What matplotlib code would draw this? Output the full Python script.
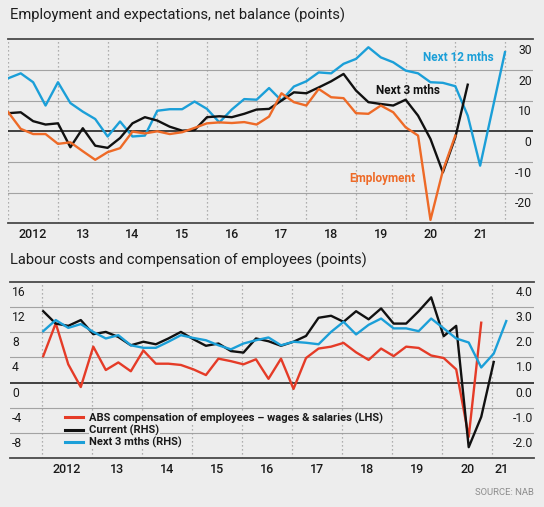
import matplotlib
matplotlib.use('Agg')
import matplotlib.pyplot as plt

BG = '#ededed'
BLUE = '#1b9fd8'
ORANGE = '#ee6a27'
RED = '#e53b27'
BLACK = '#111111'

plt.rcParams['font.family'] = ['Roboto', 'DejaVu Sans']

# ── Top chart: employment and expectations, quarterly from 2012 Q1 ───────────
next_12_mths = [17.3, 18.9, 16.0, 8.4, 16.0, 9.2, 6.4, 4.0, -1.7, 3.2, -1.7, -1.4,
                6.7, 7.2, 7.2, 9.7, 7.3, 2.9, 7.1, 10.5, 10.3, 14.1, 10.0, 14.6,
                16.3, 19.2, 18.9, 22.0, 23.6, 27.4, 24.1, 22.5, 19.8, 18.9, 16.0,
                15.8, 14.7, 5.1, -11.2, 7.3, 25.8]
next_3_mths = [5.9, 6.2, 3.3, 2.2, 2.6, -5.2, 1.0, -4.7, -5.4, -2.2, 2.6, 4.6,
               3.5, 1.5, 0.2, 0.4, 4.6, 4.9, 4.6, 5.7, 7.1, 7.3, 10.0, 12.7,
               12.4, 14.3, 16.3, 18.7, 13.3, 9.5, 8.9, 8.4, 10.3, 5.1, -2.5,
               -13.4, -2.0, 15.2]
employment = [6.2, 0.8, -0.9, -0.9, -4.1, -3.6, -6.5, -9.3, -6.8, -5.5, -0.1, -0.7,
              0.0, -0.9, -0.3, 1.1, 2.6, 2.9, 2.7, 3.0, 2.2, 4.8, 12.4, 9.5,
              8.4, 13.8, 11.1, 10.8, 5.9, 5.7, 8.4, 6.2, 1.3, -1.4, -28.9,
              -12.8, -1.4]
top_yticks = [30, 20, 10, 0, -10, -20]
top_years = ['2012', '13', '14', '15', '16', '17', '18', '19', '20', '21']

# ── Bottom chart: labour costs ───────────────────────────────────────────────
abs_wages = [4.2, 9.4, 2.9, -0.7, 5.7, 2.0, 3.2, 1.8, 5.1, 3.0, 3.0, 2.8,
             2.1, 1.2, 3.8, 3.4, 2.9, 3.7, 0.6, 3.8, -1.0, 3.9, 5.4, 5.7,
             6.3, 4.8, 3.6, 5.4, 4.2, 5.7, 5.5, 4.3, 3.9, 2.1, -8.6, 9.5]
cost_current = [2.83, 2.34, 2.25, 2.48, 1.92, 2.01, 1.81, 1.48, 1.62, 1.52, 1.75, 2.01,
                1.72, 1.46, 1.55, 1.25, 1.19, 1.75, 1.64, 1.46, 1.62, 1.85, 2.57, 2.65,
                2.41, 2.83, 2.51, 2.94, 2.34, 2.34, 2.83, 3.38, 1.84, 2.25, -2.56,
                -1.36, 0.82]
cost_next3 = [2.04, 2.48, 2.17, 2.32, 2.01, 1.75, 1.88, 1.48, 1.38, 1.38, 1.62, 1.88,
              1.77, 1.68, 1.48, 1.32, 1.55, 1.68, 1.79, 1.48, 1.62, 1.58, 1.52, 2.01,
              2.41, 1.91, 2.29, 2.54, 2.15, 2.15, 2.04, 2.54, 2.15, 1.75, 1.59,
              0.6, 1.15, 2.44]
lhs_ticks = [16, 12, 8, 4, 0, -4, -8]
rhs_ticks = [4.0, 3.0, 2.0, 1.0, 0.0, -1.0, -2.0]
bottom_years = ['2012', '13', '14', '15', '16', '17', '18', '19', '20', '21']


def quarters(n, start=2012.0):
    return [start + i / 4 for i in range(n)]


def frame(ax, ymin, ymax, step, years):
    ax.set_facecolor(BG)
    for s in ax.spines.values():
        s.set_visible(False)
    ax.set_ylim(ymin, ymax)
    ax.set_yticks([])
    v = ymin + step
    while v < ymax:
        if v == 0:
            ax.axhline(0, color='#111111', lw=1.1, zorder=2)
        else:
            ax.axhline(v, color='#a3a3a3', lw=0.8, zorder=1)
        v += step
    for edge in (ymin, ymax):
        ax.axhline(edge, color='#4a4a4a', lw=1.3, zorder=2, clip_on=False)
    for yr in years:
        ax.axvline(yr, color='#9a9a9a', lw=0.9, ls=(0, (1, 2.2)), zorder=1)
    ax.tick_params(axis='x', length=0, pad=3.5, labelsize=9, labelcolor='#1a1a1a')
    for lbl in ax.get_xticklabels():
        lbl.set_fontweight('medium')


fig = plt.figure(figsize=(5.44, 5.07), dpi=100, facecolor=BG)

# ── Chart 1 ──────────────────────────────────────────────────────────────────
ax1 = fig.add_axes([0.01526, 0.5596, 0.9645, 0.3629])
ax1.set_xlim(2012.0, 2022.564)
ax1.set_xticks([2012.5 + i for i in range(len(top_years))])
ax1.set_xticklabels(top_years, fontweight='medium')
frame(ax1, -30, 30, 10, range(2012, 2023))

ax1.plot(quarters(len(next_12_mths)), next_12_mths, color=BLUE, lw=1.7, zorder=3)
ax1.plot(quarters(len(next_3_mths)), next_3_mths, color=BLACK, lw=1.7, zorder=4)
ax1.plot(quarters(len(employment)), employment, color=ORANGE, lw=1.7, zorder=5)

for v in top_yticks:
    ax1.annotate(str(v), xy=(1, v), xycoords=('axes fraction', 'data'),
                 xytext=(-1, -8), textcoords='offset points',
                 ha='right', va='center', fontsize=8.7, color='#1a1a1a')

ax1.text(2021.07, 24.1, 'Next 12 mths', color=BLUE, fontsize=8.5,
         fontweight='bold', ha='center', va='center')
ax1.text(2020.05, 13.3, 'Next 3 mths', color=BLACK, fontsize=8.5,
         fontweight='bold', ha='center', va='center')
ax1.text(2019.54, -15.4, 'Employment', color=ORANGE, fontsize=8.5,
         fontweight='bold', ha='center', va='center')

fig.text(10 / 544, 1 - 15 / 507, 'Employment and expectations, net balance (points)',
         fontsize=10.6, color='#1e1e1e', ha='left', va='center')

# ── Chart 2 ──────────────────────────────────────────────────────────────────
ax2 = fig.add_axes([0.01838, 0.09606, 0.9632, 0.3483])
ax2.set_xlim(2011.366, 2021.834)
ax2.set_xticks([2012.5 + i for i in range(len(bottom_years) - 1)] + [2021.18])
ax2.set_xticklabels(bottom_years, fontweight='medium')
frame(ax2, -12, 16, 4, range(2012, 2022))

ax2r = ax2.twinx()
for s in ax2r.spines.values():
    s.set_visible(False)
ax2r.set_ylim(-3, 4)
ax2r.set_yticks([])

l_abs, = ax2.plot([x + 0.03 for x in quarters(len(abs_wages))], abs_wages,
                  color=RED, lw=1.7, zorder=3,
                  label='ABS compensation of employees \u2013 wages & salaries (LHS)')
l_cur, = ax2r.plot([x + 0.03 for x in quarters(len(cost_current))], cost_current,
                   color=BLACK, lw=1.7, zorder=3, label='Current (RHS)')
l_n3, = ax2r.plot([x + 0.03 for x in quarters(len(cost_next3))], cost_next3,
                  color=BLUE, lw=1.7, zorder=4, label='Next 3 mths (RHS)')

for v in lhs_ticks:
    ax2.annotate(str(v), xy=(0, v), xycoords=('axes fraction', 'data'),
                 xytext=(1.5, -7.5), textcoords='offset points',
                 ha='left', va='center', fontsize=8.7, color='#1a1a1a')
for v in rhs_ticks:
    ax2r.annotate(f'{v:.1f}', xy=(1, v), xycoords=('axes fraction', 'data'),
                  xytext=(-1, -7.5), textcoords='offset points',
                  ha='right', va='center', fontsize=8.7, color='#1a1a1a')

leg = ax2r.legend(handles=[l_abs, l_cur, l_n3], loc='upper left',
                  bbox_to_anchor=(65 / 544, 1 - 412.5 / 507), bbox_transform=fig.transFigure,
                  frameon=False, fontsize=8, handlelength=1.65, handletextpad=0.55,
                  labelspacing=0.08, borderpad=0, borderaxespad=0)
for t in leg.get_texts():
    t.set_fontweight('bold')
    t.set_color('#1a1a1a')
    t.set_bbox(dict(facecolor=BG, edgecolor='none', pad=0.6))
for h in leg.legend_handles:
    h.set_linewidth(2.2)

fig.text(10 / 544, 1 - 260.6 / 507, 'Labour costs and compensation of employees (points)',
         fontsize=10.6, color='#1e1e1e', ha='left', va='center')
fig.text(534 / 544, 1 - 492.7 / 507, 'SOURCE: NAB', fontsize=6.8, color='#8c8c8c',
         ha='right', va='center')

fig.savefig('out.png', dpi=100, facecolor=BG)
